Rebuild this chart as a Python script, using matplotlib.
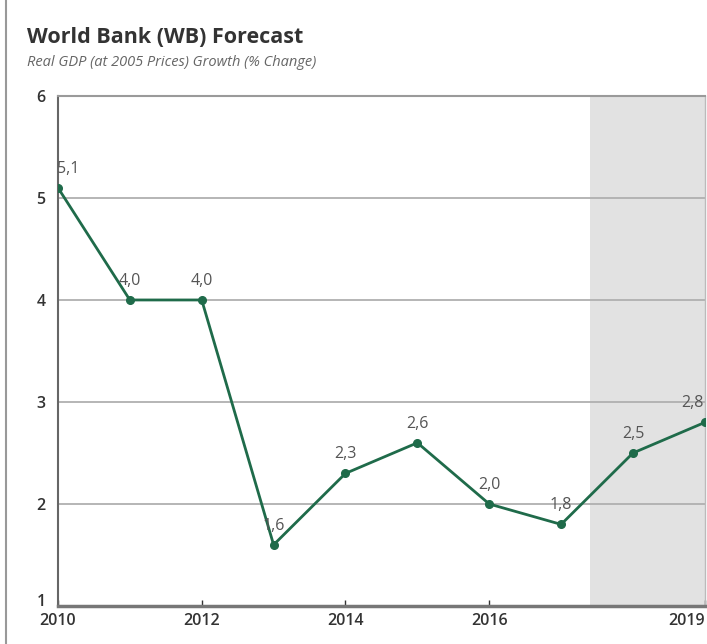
import matplotlib
matplotlib.use("Agg")
import matplotlib.pyplot as plt
from matplotlib.lines import Line2D
import matplotlib.transforms as mtransforms

years = [2010, 2011, 2012, 2013, 2014, 2015, 2016, 2017, 2018, 2019]
growth = [5.1, 4.0, 4.0, 1.6, 2.3, 2.6, 2.0, 1.8, 2.5, 2.8]
labels = ["5,1", "4,0", "4,0", "1,6", "2,3", "2,6", "2,0", "1,8", "2,5", "2,8"]
xticks = [2010, 2012, 2014, 2016, 2019]
yticks = [1, 2, 3, 4, 5, 6]
forecast_start = 2017.4

plt.rcParams['font.family'] = ['Open Sans', 'DejaVu Sans']

fig = plt.figure(figsize=(7.07, 6.44), dpi=100)
ax = fig.add_axes([0.082, 0.059, 0.915, 0.792])

ax.axvspan(forecast_start, 2019, color='#e2e2e2', zorder=0, lw=0)
for y in [2, 3, 4, 5]:
    ax.axhline(y, color='#b0b0b0', lw=1.3, zorder=1)

ax.plot(years, growth, color='#1f6b4a', lw=2, marker='o', ms=5.5, zorder=3)
n = len(years)
for i, (x, y, t) in enumerate(zip(years, growth, labels)):
    ha = 'center'
    dx = 0
    if i == 0:
        ha, dx = 'left', -1
    elif i == n - 1:
        ha, dx = 'right', -1
    ax.annotate(t, (x, y), xytext=(dx, 8), textcoords='offset points',
                ha=ha, va='bottom', fontsize=11.5, color='#555555', zorder=4,
                annotation_clip=False)

ax.set_xlim(2010, 2019)
ax.set_ylim(1, 6)
ax.set_xticks(xticks)
ax.set_yticks(yticks)
ax.tick_params(axis='y', length=0, labelsize=11.5, pad=9, colors='#333333')
ax.tick_params(axis='x', direction='in', length=4, labelsize=11.5, colors='#333333', pad=5, width=1)
for lbl in ax.get_xticklabels() + ax.get_yticklabels():
    lbl.set_fontweight('semibold')
xl = ax.get_xticklabels()
xl[-1].set_horizontalalignment('right')
yl = ax.get_yticklabels()
yl[0].set_transform(yl[0].get_transform() + mtransforms.ScaledTranslation(0, 4 / 72, fig.dpi_scale_trans))

ax.spines['left'].set_color('#666666')
ax.spines['left'].set_linewidth(1.5)
ax.spines['bottom'].set_color('#777777')
ax.spines['bottom'].set_linewidth(2.5)
ax.spines['top'].set_color('#9a9a9a')
ax.spines['top'].set_linewidth(1.5)
ax.spines['right'].set_color('#bbbbbb')
ax.spines['right'].set_linewidth(1)

fig.text(0.038, 0.934, "World Bank (WB) Forecast", fontsize=15.5, fontweight='bold', color='#333333')
fig.text(0.038, 0.898, "Real GDP (at 2005 Prices) Growth (% Change)", fontsize=10.5, style='italic', color='#666666')

fig.add_artist(Line2D([0.008, 0.008], [0, 1], transform=fig.transFigure, color='#999999', lw=1.5))

fig.savefig("out.png", dpi=100)
